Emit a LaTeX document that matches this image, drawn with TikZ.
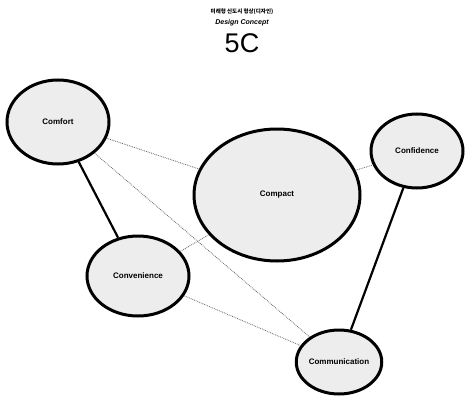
\documentclass[tikz,border=0pt]{standalone}
\usepackage{fontspec}
\setmainfont{Liberation Sans}
\newfontfamily\krfont{Noto Sans CJK KR}
\usetikzlibrary{shapes.geometric}
\begin{document}
\begin{tikzpicture}[x=1pt,y=-1pt,
  bub/.style={ellipse,draw=black,line width=3pt,fill=black!7,inner sep=0pt,
    font=\fontsize{8}{9}\selectfont\bfseries},
  thick link/.style={line width=2.2pt,black},
  thin link/.style={densely dotted,line width=0.8pt,black!60}]
\useasboundingbox (0,0) rectangle (465,401);
\node[font=\krfont\fontsize{5.5}{6}\selectfont\bfseries] (kr) at (242,12) {미래형 신도시 형상(디자인)};
\node[font=\fontsize{7}{8}\selectfont\bfseries\itshape] (dc) at (242,23) {Design Concept};
\node[font=\fontsize{27}{30}\selectfont] (fc) at (242,43) {5C};
\node[bub,minimum width=102pt,minimum height=84pt] (cf) at (58,122) {Comfort};
\node[bub,minimum width=166pt,minimum height=132pt] (cc) at (277,195) {Compact};
\node[bub,minimum width=92pt,minimum height=74pt] (cd) at (417,151) {Confidence};
\node[bub,minimum width=102pt,minimum height=80pt] (cv) at (138,276) {Convenience};
\node[bub,minimum width=84pt,minimum height=64pt] (cm) at (339,362) {Communication};
\draw[thin link] (cf) -- (cc);
\draw[thin link] (cf) -- (cm);
\draw[thin link] (cv) -- (cc);
\draw[thin link] (cv) -- (cm);
\draw[thin link] (cc) -- (cd);
\draw[thick link] (cf) -- (cv);
\draw[thick link] (cd) -- (cm);
\end{tikzpicture}
\end{document}
